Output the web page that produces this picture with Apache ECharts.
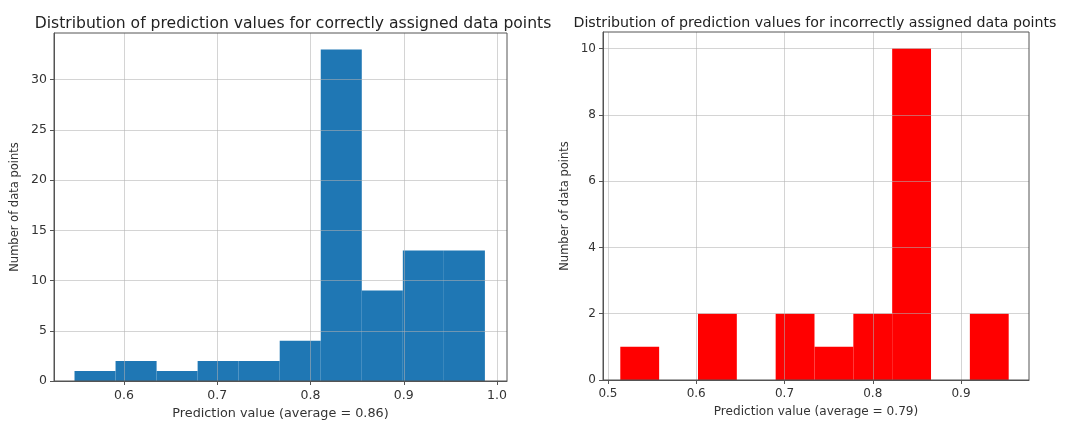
<!DOCTYPE html>
<html>
<head>
<meta charset="utf-8">
<script src="https://cdn.jsdelivr.net/npm/echarts@6/dist/echarts.min.js"></script>
<style>
  html, body { margin: 0; padding: 0; background: #fff; }
  #chart { width: 1077px; height: 421px; }
</style>
</head>
<body>
<div id="chart"></div>
<script>
// bin edges and counts
const correctEdges = [0.547, 0.591, 0.635, 0.679, 0.723, 0.767, 0.811, 0.855, 0.899, 0.943, 0.987]
const correctCounts = [1, 2, 1, 2, 2, 4, 33, 9, 13, 13]
const wrongEdges = [0.514, 0.558, 0.602, 0.646, 0.690, 0.734, 0.778, 0.822, 0.866, 0.910, 0.954]
const wrongCounts = [1, 0, 2, 0, 2, 1, 2, 10, 0, 2]

// tick labels
const correctXTicks = [0.6, 0.7, 0.8, 0.9, 1.0]
const wrongXTicks = [0.5, 0.6, 0.7, 0.8, 0.9]
const correctYTicks = [0, 5, 10, 15, 20, 25, 30]
const wrongYTicks = [0, 2, 4, 6, 8, 10]

const titles = [
  'Distribution of prediction values for correctly assigned data points',
  'Distribution of prediction values for incorrectly assigned data points'
]
const xNames = ['Prediction value (average = 0.86)', 'Prediction value (average = 0.79)']
const yName = 'Number of data points'

const font = 'DejaVu Sans'
const textColor = '#333'
const gridColor = 'rgba(176,176,176,0.55)'

function toBins(edges, counts) {
  return counts.map((c, i) => [edges[i], edges[i + 1], c])
}

function renderBar(params, api) {
  const p0 = api.coord([api.value(0), api.value(2)])
  const p1 = api.coord([api.value(1), 0])
  return {
    type: 'rect',
    shape: { x: p0[0], y: p0[1], width: p1[0] - p0[0], height: p1[1] - p0[1] },
    style: { fill: api.visual('color') }
  }
}

function xAxisCfg(idx, min, max, ticks, name, labelSize, nameSize) {
  return {
    gridIndex: idx, type: 'value', min, max, z: 5,
    name, nameLocation: 'middle', nameGap: 26,
    nameTextStyle: { fontFamily: font, fontSize: nameSize, color: textColor },
    axisLine: { show: true, onZero: false, lineStyle: { color: '#555', width: 1 } },
    axisTick: { show: true, length: 4, customValues: ticks, lineStyle: { color: '#555' } },
    axisLabel: { fontFamily: font, fontSize: labelSize, color: textColor, margin: 8,
      customValues: ticks, formatter: v => v.toFixed(1) },
    splitLine: { show: true, lineStyle: { color: gridColor, width: 1 } }
  }
}

function yAxisCfg(idx, max, ticks, gap, labelSize) {
  return {
    gridIndex: idx, type: 'value', min: 0, max, z: 5,
    name: yName, nameLocation: 'middle', nameGap: gap, nameRotate: 90,
    nameTextStyle: { fontFamily: font, fontSize: 11.5, color: textColor },
    axisLine: { show: true, lineStyle: { color: '#555', width: 1 } },
    axisTick: { show: true, length: 4, customValues: ticks, lineStyle: { color: '#555' } },
    axisLabel: { fontFamily: font, fontSize: labelSize, color: textColor, margin: 7,
      customValues: ticks, formatter: v => String(v) },
    splitLine: { show: true, lineStyle: { color: gridColor, width: 1 } }
  }
}

const chart = echarts.init(document.getElementById('chart'))
chart.setOption({
  backgroundColor: '#fff',
  animation: false,
  title: [
    { text: titles[0], left: 288, top: 11, textAlign: 'center',
      textStyle: { fontFamily: font, fontSize: 15.6, fontWeight: 'normal', color: '#222' } },
    { text: titles[1], left: 810, top: 11, textAlign: 'center',
      textStyle: { fontFamily: font, fontSize: 14.2, fontWeight: 'normal', color: '#222' } }
  ],
  grid: [
    { left: 54, right: 570, top: 33, bottom: 40, show: true, z: 6, outerBoundsMode: 'none',
      containLabel: false, backgroundColor: 'transparent', borderColor: '#555', borderWidth: 1 },
    { left: 603, right: 48, top: 32, bottom: 41, show: true, z: 6, outerBoundsMode: 'none',
      containLabel: false, backgroundColor: 'transparent', borderColor: '#555', borderWidth: 1 }
  ],
  xAxis: [
    xAxisCfg(0, 0.525, 1.0107, correctXTicks, xNames[0], 12.5, 12.8),
    xAxisCfg(1, 0.4944, 0.977, wrongXTicks, xNames[1], 12, 12.1)
  ],
  yAxis: [
    yAxisCfg(0, 34.65, correctYTicks, 33, 12.5),
    yAxisCfg(1, 10.5, wrongYTicks, 32, 12)
  ],
  series: [
    { type: 'custom', xAxisIndex: 0, yAxisIndex: 0, z: 1, color: '#1f77b4',
      renderItem: renderBar, encode: { x: [0, 1], y: 2 }, data: toBins(correctEdges, correctCounts) },
    { type: 'custom', xAxisIndex: 1, yAxisIndex: 1, z: 1, color: '#ff0000',
      renderItem: renderBar, encode: { x: [0, 1], y: 2 }, data: toBins(wrongEdges, wrongCounts) }
  ]
})
</script>
</body>
</html>
